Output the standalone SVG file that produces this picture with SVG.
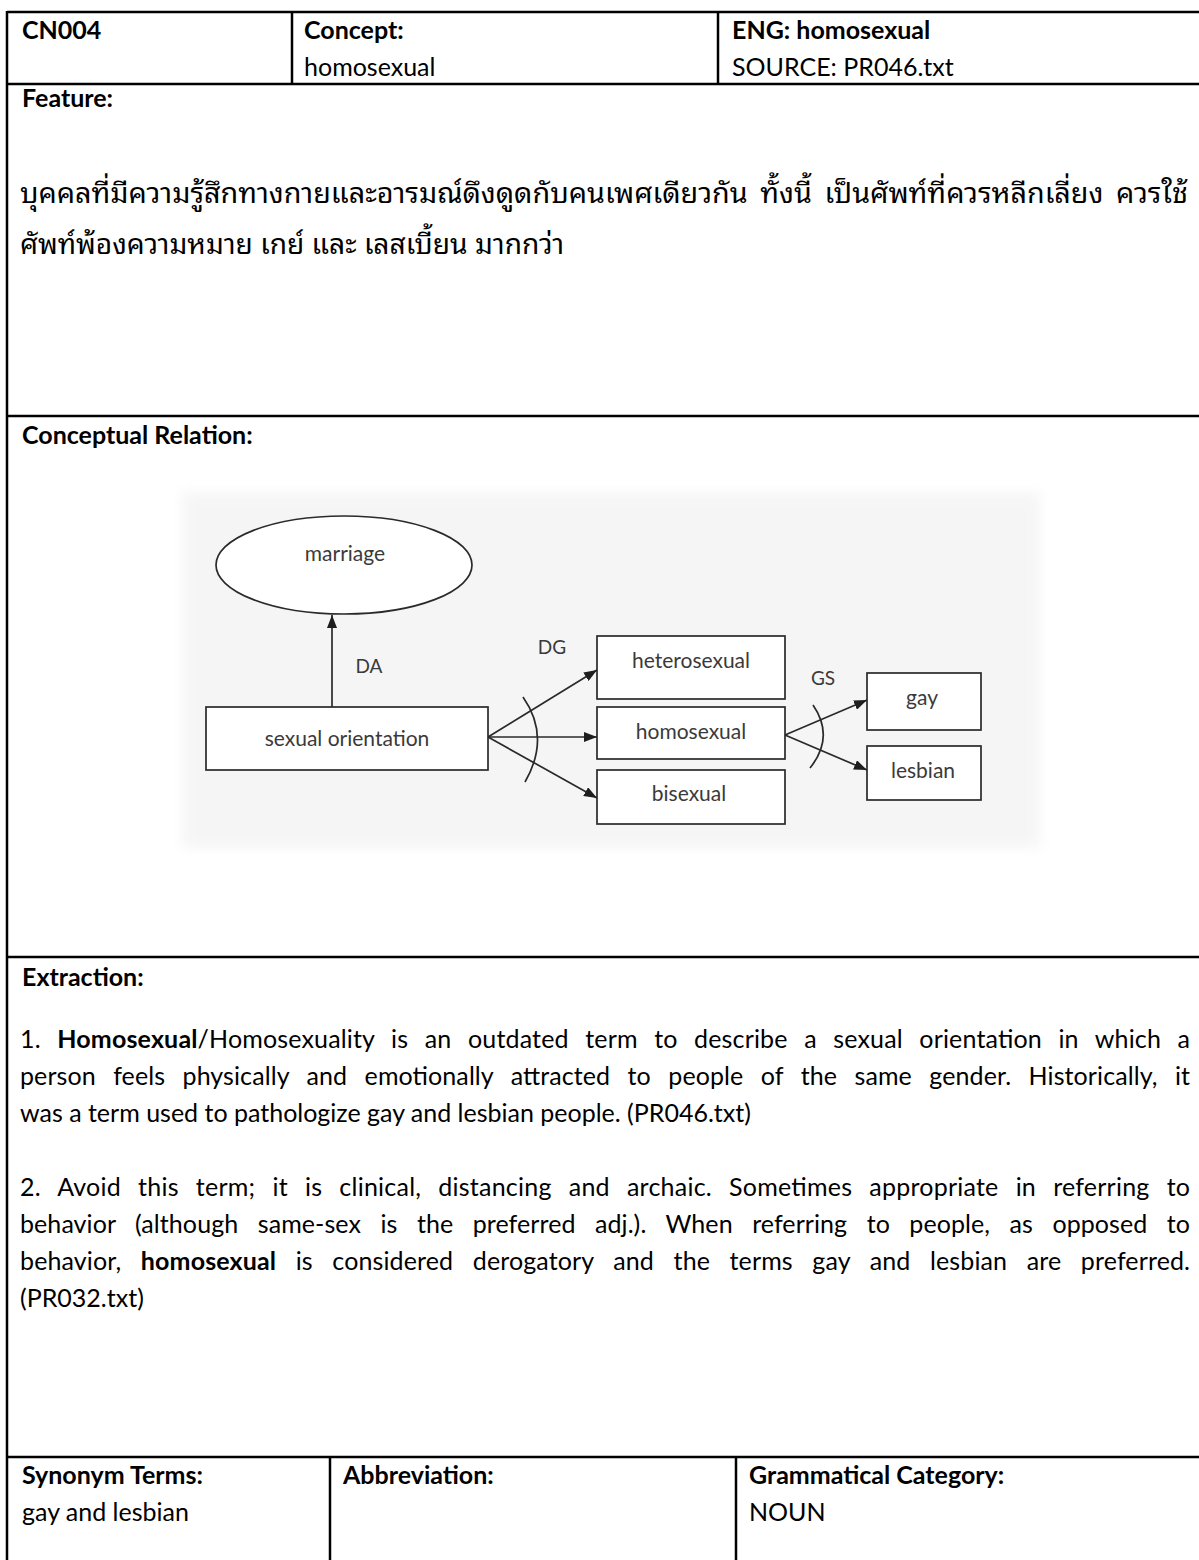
<svg xmlns="http://www.w3.org/2000/svg" width="1199" height="1560" viewBox="0 0 1199 1560">
  <style>
    .bold { font-family: Lato, "Liberation Sans", sans-serif; font-weight: 700; font-size: 25px; fill: #000; }
    .reg { font-family: Lato, "Liberation Sans", sans-serif; font-weight: 400; font-size: 25px; fill: #000; }
    .thai { font-family: "Noto Sans Thai Looped", "Noto Serif Thai", "Noto Sans Thai", Garuda, Loma, Norasi, sans-serif; font-size: 28px; fill: #000; }
    .rule { stroke: #000; stroke-width: 2.5; fill: none; }
    .shape { fill: #fff; stroke: #2a2a2a; stroke-width: 1.7; }
    .edge { stroke: #2a2a2a; stroke-width: 1.7; fill: none; }
    .lbl { font-family: Lato, "Liberation Sans", sans-serif; font-size: 21px; fill: #3a3a3a; text-anchor: middle; }
    .rel { font-family: Lato, "Liberation Sans", sans-serif; font-size: 19px; fill: #3a3a3a; text-anchor: middle; }
  </style>
  <defs>
    <marker id="arrow" viewBox="0 0 13 10" refX="13" refY="5" markerWidth="13" markerHeight="10" markerUnits="userSpaceOnUse" orient="auto">
      <path d="M0,0 L13,5 L0,10 z" fill="#1e1e1e"/>
    </marker>
    <filter id="haze" x="-10%" y="-10%" width="120%" height="120%">
      <feGaussianBlur stdDeviation="6"/>
    </filter>
  </defs>

  <rect width="1199" height="1560" fill="#fff"/>

  <!-- table rules -->
  <g id="table">
    <line class="rule" x1="7" y1="12" x2="1199" y2="12"/>
    <line class="rule" x1="7" y1="11" x2="7" y2="1560"/>
    <line class="rule" x1="292" y1="12" x2="292" y2="84"/>
    <line class="rule" x1="718" y1="12" x2="718" y2="84"/>
    <line class="rule" x1="7" y1="84" x2="1199" y2="84"/>
    <line class="rule" x1="7" y1="416" x2="1199" y2="416"/>
    <line class="rule" x1="7" y1="957" x2="1199" y2="957"/>
    <line class="rule" x1="7" y1="1457" x2="1199" y2="1457"/>
    <line class="rule" x1="330" y1="1457" x2="330" y2="1560"/>
    <line class="rule" x1="736" y1="1457" x2="736" y2="1560"/>
  </g>

  <!-- header row -->
  <g id="header">
    <text class="bold" x="22" y="39">CN004</text>
    <text class="bold" x="304" y="39">Concept:</text>
    <text class="reg" x="304" y="76">homosexual</text>
    <text class="bold" x="732" y="39">ENG: homosexual</text>
    <text class="reg" x="732" y="76">SOURCE: PR046.txt</text>
  </g>

  <!-- feature row -->
  <g id="feature">
    <text class="bold" x="22" y="107">Feature:</text>
    <text class="thai" x="20" y="203" style="word-spacing:5px" textLength="1168" lengthAdjust="spacingAndGlyphs">บุคคลที่มีความรู้สึกทางกายและอารมณ์ดึงดูดกับคนเพศเดียวกัน  ทั้งนี้  เป็นศัพท์ที่ควรหลีกเลี่ยง  ควรใช้</text>
    <text class="thai" x="20" y="254" textLength="544" lengthAdjust="spacingAndGlyphs">ศัพท์พ้องความหมาย เกย์ และ เลสเบี้ยน มากกว่า</text>
  </g>

  <!-- conceptual relation row -->
  <text class="bold" x="22" y="444">Conceptual Relation:</text>

  <!-- soft backdrop behind the relation chart -->
  <rect x="182" y="492" width="858" height="356" fill="#f0f0f0" opacity="0.6" filter="url(#haze)"/>

  <g id="connectors">
    <line class="edge" x1="332" y1="707" x2="332" y2="615" marker-end="url(#arrow)"/>
    <line class="edge" x1="488" y1="737" x2="597" y2="670" marker-end="url(#arrow)"/>
    <line class="edge" x1="488" y1="737" x2="597" y2="737" marker-end="url(#arrow)"/>
    <line class="edge" x1="488" y1="737" x2="597" y2="798" marker-end="url(#arrow)"/>
    <path class="edge" d="M523,697 Q551,737 525,782"/>
    <line class="edge" x1="785" y1="735" x2="867" y2="700" marker-end="url(#arrow)"/>
    <line class="edge" x1="785" y1="735" x2="867" y2="770" marker-end="url(#arrow)"/>
    <path class="edge" d="M813,705 Q835,737 810,768"/>
    <text class="rel" x="369" y="673">DA</text>
    <text class="rel" x="552" y="654">DG</text>
    <text class="rel" x="823" y="685">GS</text>
  </g>

  <g id="node-marriage">
    <ellipse class="shape" cx="344" cy="565" rx="128" ry="49"/>
    <text class="lbl" x="345" y="561">marriage</text>
  </g>
  <g id="node-sexual-orientation">
    <rect class="shape" x="206" y="707" width="282" height="63"/>
    <text class="lbl" x="347" y="746">sexual orientation</text>
  </g>
  <g id="node-heterosexual">
    <rect class="shape" x="597" y="636" width="188" height="63"/>
    <text class="lbl" x="691" y="668">heterosexual</text>
  </g>
  <g id="node-homosexual">
    <rect class="shape" x="597" y="707" width="188" height="52"/>
    <text class="lbl" x="691" y="739">homosexual</text>
  </g>
  <g id="node-bisexual">
    <rect class="shape" x="597" y="770" width="188" height="54"/>
    <text class="lbl" x="689" y="801">bisexual</text>
  </g>
  <g id="node-gay">
    <rect class="shape" x="867" y="673" width="114" height="57"/>
    <text class="lbl" x="922" y="705">gay</text>
  </g>
  <g id="node-lesbian">
    <rect class="shape" x="867" y="746" width="114" height="54"/>
    <text class="lbl" x="923" y="778">lesbian</text>
  </g>

  <!-- extraction row -->
  <g id="extraction">
    <text class="bold" x="22" y="986">Extraction:</text>
    <text class="reg" x="20" y="1048" style="word-spacing:10px" textLength="1170" lengthAdjust="spacing">1.  <tspan class="bold">Homosexual</tspan>/Homosexuality is an outdated term to describe a sexual orientation in which a</text>
    <text class="reg" x="20" y="1085" style="word-spacing:11px" textLength="1170" lengthAdjust="spacing">person feels physically and emotionally attracted to people of the same gender. Historically, it</text>
    <text class="reg" x="20" y="1122">was a term used to pathologize gay and lesbian people. (PR046.txt)</text>
    <text class="reg" x="20" y="1196" style="word-spacing:10.5px" textLength="1170" lengthAdjust="spacing">2.  Avoid this term; it is clinical, distancing and archaic. Sometimes appropriate in referring to</text>
    <text class="reg" x="20" y="1233" style="word-spacing:13px" textLength="1170" lengthAdjust="spacing">behavior (although same-sex is the preferred adj.). When referring to people, as opposed to</text>
    <text class="reg" x="20" y="1270" style="word-spacing:13px" textLength="1170" lengthAdjust="spacing">behavior, <tspan class="bold">homosexual</tspan> is considered derogatory and the terms gay and lesbian are preferred.</text>
    <text class="reg" x="20" y="1307">(PR032.txt)</text>
  </g>

  <!-- bottom row -->
  <g id="footer">
    <text class="bold" x="22" y="1484">Synonym Terms:</text>
    <text class="reg" x="22" y="1521">gay and lesbian</text>
    <text class="bold" x="343" y="1484">Abbreviation:</text>
    <text class="bold" x="749" y="1484">Grammatical Category:</text>
    <text class="reg" x="749" y="1521">NOUN</text>
  </g>
</svg>
